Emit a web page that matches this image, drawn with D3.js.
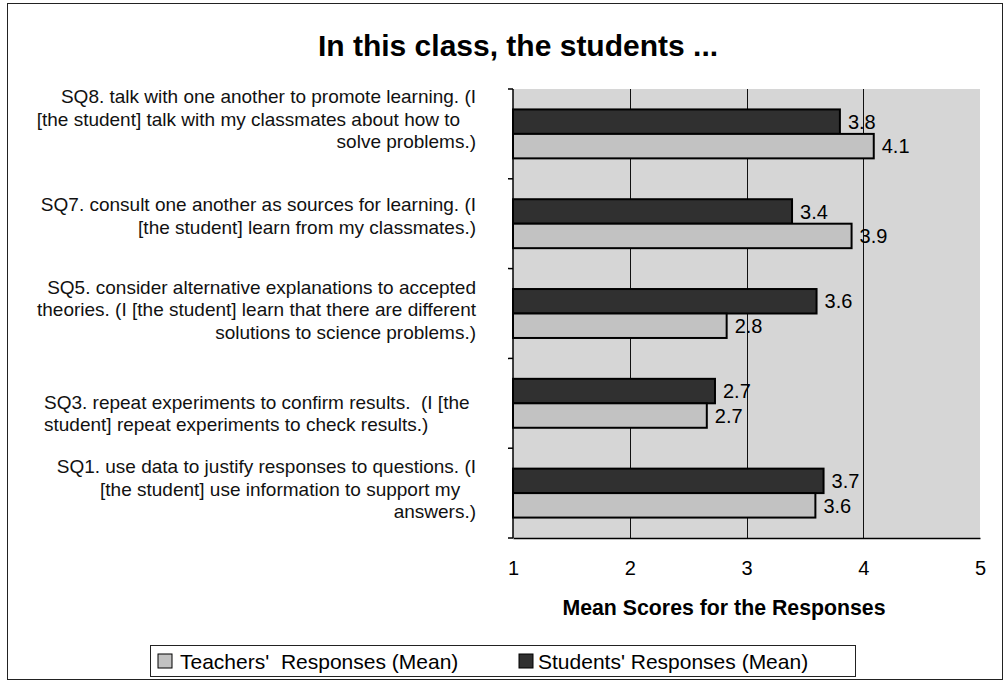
<!DOCTYPE html>
<html>
<head>
<meta charset="utf-8">
<script src="https://cdn.jsdelivr.net/npm/d3@7"></script>
<style>
  body { margin: 0; background: #fff; }
  text { font-family: 'Liberation Sans', Arial, sans-serif; }
</style>
</head>
<body>
<div id="chart"></div>
<script>
// categories, top to bottom as in the chart
const categories = ['SQ8', 'SQ7', 'SQ5', 'SQ3', 'SQ1'];

// wrapped label lines (trailing spaces kept as in the original wrapping)
const categoryLines = [
  ['SQ8. talk with one another to promote learning. (I', '[the student] talk with my classmates about how to   ', 'solve problems.)'],
  ['SQ7. consult one another as sources for learning. (I', '[the student] learn from my classmates.)'],
  ['SQ5. consider alternative explanations to accepted', 'theories. (I [the student] learn that there are different', 'solutions to science problems.)'],
  ['SQ3. repeat experiments to confirm results.  (I [the', 'student] repeat experiments to check results.)'],
  ['SQ1. use data to justify responses to questions. (I', '[the student] use information to support my   ', 'answers.)'],
];

const studentsMean = [3.8, 3.39, 3.6, 2.73, 3.66];
const teachersMean = [4.09, 3.9, 2.83, 2.66, 3.59];

const xTicks = [1, 2, 3, 4, 5];

const seriesNames = ["Students' Responses (Mean)", "Teachers'  Responses (Mean)"];

const width = 1006;
const height = 682;
const plot = { left: 513, right: 980, top: 89, bottom: 538 };

// label block layout as in the original: vertical nudge and alignment
const labelShift = [-15, -8, -4, 10, -4];
const labelAlign = ['end', 'end', 'end', 'start', 'end'];

const colStudent = '#303030';
const colTeacher = '#c2c2c2';
const colPlotBg = '#d6d6d6';

const svg = d3
  .select('#chart')
  .append('svg')
  .attr('width', width)
  .attr('height', height);

// outer frame
svg
  .append('rect')
  .attr('x', 7.5)
  .attr('y', 3.5)
  .attr('width', 995)
  .attr('height', 676)
  .attr('fill', 'white')
  .attr('stroke', '#222')
  .attr('stroke-width', 1);

svg
  .append('text')
  .attr('x', 518)
  .attr('y', 56)
  .attr('text-anchor', 'middle')
  .attr('font-size', 30)
  .attr('font-weight', 'bold')
  .text('In this class, the students ...');

const x = d3.scaleLinear().domain([1, 5]).range([plot.left, plot.right]);

const y = d3
  .scaleBand()
  .domain(categories)
  .range([plot.top, plot.bottom])
  .paddingInner(0.455)
  .paddingOuter(0.2275);

const ySeries = d3
  .scaleBand()
  .domain(['students', 'teachers'])
  .range([0, y.bandwidth()]);

// plot background
svg
  .append('rect')
  .attr('x', plot.left)
  .attr('y', plot.top)
  .attr('width', plot.right - plot.left)
  .attr('height', plot.bottom - plot.top)
  .attr('fill', colPlotBg);

// gridlines
svg
  .append('g')
  .selectAll('line')
  .data(xTicks.filter(d => d > 1 && d < 5))
  .join('line')
  .attr('x1', d => Math.round(x(d)) + 0.5)
  .attr('x2', d => Math.round(x(d)) + 0.5)
  .attr('y1', plot.top)
  .attr('y2', plot.bottom)
  .attr('stroke', '#111')
  .attr('stroke-width', 1);

const rows = categories.map((c, i) => ({
  cat: c,
  students: studentsMean[i],
  teachers: teachersMean[i],
}));

const groups = svg
  .append('g')
  .selectAll('g')
  .data(rows)
  .join('g')
  .attr('transform', d => `translate(0,${y(d.cat)})`);

const barData = d => [
  { key: 'students', value: d.students, fill: colStudent },
  { key: 'teachers', value: d.teachers, fill: colTeacher },
];

groups
  .selectAll('rect')
  .data(barData)
  .join('rect')
  .attr('x', x(1))
  .attr('y', d => ySeries(d.key))
  .attr('width', d => x(d.value) - x(1))
  .attr('height', ySeries.bandwidth())
  .attr('fill', d => d.fill)
  .attr('stroke', '#000')
  .attr('stroke-width', 2);

groups
  .selectAll('text')
  .data(barData)
  .join('text')
  .attr('x', d => x(d.value) + 8)
  .attr('y', d => ySeries(d.key) + ySeries.bandwidth() / 2)
  .attr('dy', '0.36em')
  .attr('font-size', 20)
  .attr('fill', '#000')
  .text(d => d3.format('.1f')(d.value));

// x axis
const xAxis = svg
  .append('g')
  .attr('transform', `translate(0,${plot.bottom})`)
  .call(d3.axisBottom(x).tickValues(xTicks).tickSize(0).tickPadding(23).tickFormat(d3.format('d')));
xAxis.select('.domain').attr('stroke', '#000').attr('stroke-width', 1.5);
xAxis.selectAll('text').attr('font-size', 20).attr('font-family', "'Liberation Sans', Arial, sans-serif").attr('fill', '#000');

// y axis with ticks at the category boundaries
svg
  .append('line')
  .attr('x1', plot.left)
  .attr('x2', plot.left)
  .attr('y1', plot.top)
  .attr('y2', plot.bottom)
  .attr('stroke', '#000')
  .attr('stroke-width', 1.5);

const boundaries = [plot.top].concat(categories.map(c => y(c) + y.bandwidth() / 2 + y.step() / 2));
svg
  .append('g')
  .selectAll('line')
  .data(boundaries)
  .join('line')
  .attr('x1', plot.left - 5)
  .attr('x2', plot.left)
  .attr('y1', d => d)
  .attr('y2', d => d)
  .attr('stroke', '#000')
  .attr('stroke-width', 1.5);

// category labels, wrapped
const lineH = 22.5;
svg
  .append('g')
  .selectAll('text')
  .data(categories)
  .join('text')
  .attr('font-size', 19)
  .attr('text-anchor', (c, i) => labelAlign[i])
  .attr('fill', '#111')
  .each(function (c, i) {
    const lines = categoryLines[i];
    const cy = y(c) + y.bandwidth() / 2 + labelShift[i];
    const y0 = cy - ((lines.length - 1) * lineH) / 2;
    d3.select(this)
      .selectAll('tspan')
      .data(lines)
      .join('tspan')
      .attr('x', labelAlign[i] === 'start' ? 44 : 476)
      .attr('y', (d, j) => y0 + j * lineH)
      .attr('dy', '0.36em')
      .style('white-space', 'pre')
      .text(d => d);
  });

svg
  .append('text')
  .attr('x', 724)
  .attr('y', 615)
  .attr('text-anchor', 'middle')
  .attr('font-size', 21.3)
  .attr('font-weight', 'bold')
  .text('Mean Scores for the Responses');

// legend
const legend = svg.append('g');
legend
  .append('rect')
  .attr('x', 150.5)
  .attr('y', 645.5)
  .attr('width', 705)
  .attr('height', 31)
  .attr('fill', 'white')
  .attr('stroke', '#222');

const legendItems = [
  { name: seriesNames[1], fill: colTeacher, x: 158, gap: 22 },
  { name: seriesNames[0], fill: colStudent, x: 519, gap: 19 },
];

const li = legend
  .selectAll('g')
  .data(legendItems)
  .join('g')
  .attr('transform', d => `translate(${d.x},654)`);

li.append('rect')
  .attr('width', 14)
  .attr('height', 14)
  .attr('fill', d => d.fill)
  .attr('stroke', '#000')
  .attr('stroke-width', 1);

li.append('text')
  .attr('x', d => d.gap)
  .attr('y', 7)
  .attr('dy', '0.36em')
  .attr('font-size', 21)
  .style('white-space', 'pre')
  .text(d => d.name);
</script>
</body>
</html>
